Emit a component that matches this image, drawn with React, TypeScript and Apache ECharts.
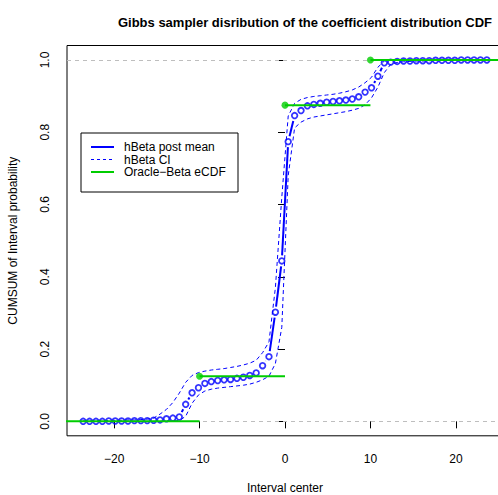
import React, { useEffect, useRef } from "react";
import * as echarts from "echarts";

// Interval centers (x)
const intervalCenters = [
  -23.625, -22.875, -22.125, -21.375, -20.625, -19.875, -19.125, -18.375,
  -17.625, -16.875, -16.125, -15.375, -14.625, -13.875, -13.125, -12.375,
  -11.625, -10.875, -10.125, -9.375, -8.625, -7.875, -7.125, -6.375,
  -5.625, -4.875, -4.125, -3.375, -2.625, -1.875, -1.125, -0.375,
  0.375, 1.125, 1.875, 2.625, 3.375, 4.125, 4.875, 5.625,
  6.375, 7.125, 7.875, 8.625, 9.375, 10.125, 10.875, 11.625,
  12.375, 13.125, 13.875, 14.625, 15.375, 16.125, 16.875, 17.625,
  18.375, 19.125, 19.875, 20.625, 21.375, 22.125, 22.875, 23.625,
];

// hBeta posterior mean (cumulative)
const postMean = [
  0.0, 0.0, 0.0, 0.0, 0.001, 0.001, 0.001, 0.001,
  0.002, 0.002, 0.002, 0.003, 0.004, 0.007, 0.009, 0.012,
  0.047, 0.079, 0.093, 0.105, 0.11, 0.113, 0.115, 0.116,
  0.119, 0.122, 0.127, 0.134, 0.154, 0.179, 0.302, 0.444,
  0.774, 0.846, 0.86, 0.873, 0.877, 0.88, 0.883, 0.885,
  0.887, 0.889, 0.892, 0.898, 0.911, 0.923, 0.955, 0.992,
  0.994, 0.996, 0.997, 0.997, 0.998, 0.998, 0.998, 0.999,
  0.999, 0.999, 0.999, 1.0, 1.0, 1.0, 1.0, 1.0,
];

// hBeta credible interval, upper
const ciUpper = [
  0.001, 0.001, 0.001, 0.002, 0.002, 0.003, 0.003, 0.004,
  0.004, 0.005, 0.006, 0.009, 0.02, 0.033, 0.052, 0.078,
  0.108, 0.127, 0.135, 0.139, 0.142, 0.144, 0.146, 0.149,
  0.152, 0.156, 0.161, 0.169, 0.19, 0.22, 0.37, 0.62,
  0.845, 0.88, 0.891, 0.896, 0.899, 0.901, 0.903, 0.905,
  0.908, 0.912, 0.917, 0.925, 0.937, 0.952, 0.98, 0.997,
  0.999, 1.0, 1.0, 1.0, 1.0, 1.0, 1.0, 1.0,
  1.0, 1.0, 1.0, 1.0, 1.0, 1.0, 1.0, 1.0,
];

// hBeta credible interval, lower
const ciLower = [
  0.0, 0.0, 0.0, 0.0, 0.0, 0.0, 0.0, 0.0,
  0.0, 0.0, 0.0, 0.0, 0.0, 0.001, 0.001, 0.002,
  0.014, 0.05, 0.073, 0.084, 0.089, 0.092, 0.094, 0.096,
  0.098, 0.1, 0.103, 0.108, 0.115, 0.125, 0.16, 0.26,
  0.68, 0.812, 0.828, 0.837, 0.842, 0.845, 0.848, 0.851,
  0.854, 0.857, 0.861, 0.866, 0.876, 0.895, 0.925, 0.965,
  0.988, 0.993, 0.995, 0.996, 0.997, 0.997, 0.998, 0.998,
  0.998, 0.999, 0.999, 0.999, 0.999, 1.0, 1.0, 1.0,
];

// Oracle-Beta eCDF step function
const oracleKnots = [-10, 0, 10];
const oracleLevels = [0, 0.125, 0.875, 1.0];

// reference lines
const refLevels = [0, 1];

const xTicks = [-20, -10, 0, 10, 20];
const yTicks = [0, 0.2, 0.4, 0.6, 0.8, 1.0];

const X_MIN = -25.515;
const X_MAX = 25.515;
const Y_MIN = -0.04;
const Y_MAX = 1.04;

const BLUE = "#0000FF";
const GREEN = "#00CD00";
const FONT = "'Liberation Sans', Arial, Helvetica, sans-serif";

const fmtX = (v: number) => (v < 0 ? "\u2212" + Math.abs(v) : String(v));

export default function App() {
  const ref = useRef<HTMLDivElement>(null);

  useEffect(() => {
    if (!ref.current) return;
    const chart = echarts.init(ref.current, undefined, { renderer: "svg" });

    const meanData = intervalCenters.map((x, i) => [x, postMean[i]]);
    const upperData = intervalCenters.map((x, i) => [x, ciUpper[i]]);
    const lowerData = intervalCenters.map((x, i) => [x, ciLower[i]]);

    const stepSeries = oracleLevels.map((lv, i) => ({
      type: "line",
      name: "oracle" + i,
      data: [
        [i === 0 ? X_MIN - 1 : oracleKnots[i - 1], lv],
        [i === oracleLevels.length - 1 ? X_MAX + 1 : oracleKnots[i], lv],
      ],
      symbol: "none",
      lineStyle: { color: GREEN, width: 2 },
      z: 5,
      silent: true,
    }));

    const legendRows = [
      { label: "hBeta post mean", color: BLUE, width: 2, dash: null as number[] | null },
      { label: "hBeta CI", color: BLUE, width: 1, dash: [3, 3] },
      { label: "Oracle\u2212Beta eCDF", color: GREEN, width: 2, dash: null },
    ];
    const lgX = 81, lgY = 133, lgW = 157, lgH = 59;
    const rowY = [147, 159.5, 172];

    const legendChildren: any[] = [
      {
        type: "rect",
        shape: { x: lgX, y: lgY, width: lgW, height: lgH },
        style: { fill: "#fff", stroke: "#000", lineWidth: 1 },
      },
    ];
    legendRows.forEach((r, i) => {
      legendChildren.push({
        type: "line",
        shape: { x1: 91, y1: rowY[i], x2: 114, y2: rowY[i] },
        style: { stroke: r.color, lineWidth: r.width, lineDash: r.dash },
      });
      legendChildren.push({
        type: "text",
        x: 124,
        y: rowY[i],
        style: {
          text: r.label,
          font: `12px ${FONT}`,
          fill: "#000",
          lineHeight: 12,
          verticalAlign: "middle",
        },
      });
    });

    chart.setOption({
      animation: false,
      backgroundColor: "#fff",
      title: {
        text: "Gibbs sampler disribution of the coefficient distribution CDF",
        left: 300,
        top: 11,
        textAlign: "center",
        textStyle: { fontFamily: FONT, fontSize: 13, fontWeight: "bold", color: "#000" },
      },
      grid: {
        left: 67,
        top: 45.5,
        width: 436,
        height: 390.3,
        show: true,
        borderColor: "#000",
        borderWidth: 1,
        backgroundColor: "transparent",
        containLabel: false,
        outerBoundsMode: "none",
      },
      xAxis: {
        type: "value",
        min: X_MIN,
        max: X_MAX,
        name: "Interval center",
        nameLocation: "middle",
        nameGap: 46,
        nameTextStyle: { fontFamily: FONT, fontSize: 12, color: "#000" },
        axisLine: { show: false },
        splitLine: { show: false },
        axisTick: {
          show: true,
          length: 7,
          customValues: xTicks,
          lineStyle: { color: "#000", width: 1 },
        },
        axisLabel: {
          customValues: xTicks,
          formatter: (v: number) => fmtX(v),
          fontFamily: FONT,
          fontSize: 12,
          color: "#000",
          margin: 17,
        },
      },
      yAxis: {
        type: "value",
        min: Y_MIN,
        max: Y_MAX,
        name: "CUMSUM of Interval probability",
        nameLocation: "middle",
        nameGap: 48,
        nameRotate: 90,
        nameTextStyle: { fontFamily: FONT, fontSize: 12, color: "#000" },
        axisLine: { show: false },
        splitLine: { show: false },
        axisTick: {
          show: true,
          length: 7,
          customValues: yTicks,
          lineStyle: { color: "#000", width: 1 },
        },
        axisLabel: {
          customValues: yTicks,
          formatter: (v: number) => v.toFixed(1),
          rotate: 90,
          fontFamily: FONT,
          fontSize: 12,
          color: "#000",
          margin: 16,
        },
      },
      series: [
        {
          type: "line",
          name: "hBeta CI lower",
          data: lowerData,
          symbol: "none",
          lineStyle: { color: BLUE, width: 1, type: [4, 3] },
          z: 2,
          silent: true,
          markLine: {
            silent: true,
            symbol: "none",
            label: { show: false },
            lineStyle: { color: "#BEBEBE", width: 1, type: [4, 4] },
            data: refLevels.map((v) => ({ yAxis: v })),
          },
        },
        {
          type: "line",
          name: "hBeta CI upper",
          data: upperData,
          symbol: "none",
          lineStyle: { color: BLUE, width: 1, type: [4, 3] },
          z: 2,
          silent: true,
        },
        {
          type: "custom",
          name: "hBeta post mean line",
          data: meanData,
          encode: { x: 0, y: 1 },
          z: 3,
          silent: true,
          renderItem: (params: any, api: any) => {
            const i = params.dataIndex;
            if (i >= meanData.length - 1) return { type: "group", children: [] };
            const p0 = api.coord(meanData[i]);
            const p1 = api.coord(meanData[i + 1]);
            const dx = p1[0] - p0[0];
            const dy = p1[1] - p0[1];
            const len = Math.hypot(dx, dy);
            const gap = 5.5;
            if (len <= 2 * gap) return { type: "group", children: [] };
            const ux = dx / len, uy = dy / len;
            return {
              type: "line",
              shape: {
                x1: p0[0] + ux * gap,
                y1: p0[1] + uy * gap,
                x2: p1[0] - ux * gap,
                y2: p1[1] - uy * gap,
              },
              style: { stroke: BLUE, lineWidth: 2 },
            };
          },
        },
        {
          type: "scatter",
          name: "hBeta post mean",
          data: meanData,
          symbol: "circle",
          symbolSize: 5.6,
          itemStyle: { color: "rgba(0,0,0,0)", borderColor: BLUE, borderWidth: 1.8 },
          z: 4,
          silent: true,
        },
        ...stepSeries,
        {
          type: "scatter",
          name: "Oracle-Beta knots",
          data: oracleKnots.map((k, i) => [k, oracleLevels[i + 1]]),
          symbol: "circle",
          symbolSize: 7,
          itemStyle: { color: GREEN },
          z: 6,
          silent: true,
        },
      ],
      graphic: [{ type: "group", z: 100, children: legendChildren }],
    });

    return () => chart.dispose();
  }, []);

  return (
    <div
      ref={ref}
      style={{ position: "absolute", left: 0, top: 0, width: 498, height: 495 }}
    />
  );
}
